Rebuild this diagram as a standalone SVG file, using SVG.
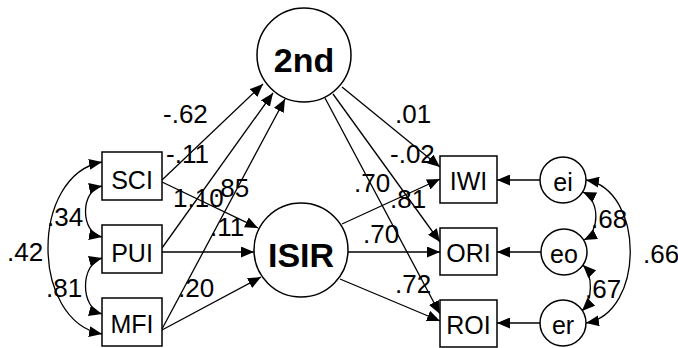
<svg xmlns="http://www.w3.org/2000/svg" width="678" height="348" viewBox="0 0 678 348">
  <defs>
    <marker id="arrow" viewBox="0 0 13 11" refX="13" refY="5.5" markerWidth="13" markerHeight="11" markerUnits="userSpaceOnUse" orient="auto-start-reverse">
      <path d="M0,0 L13,5.5 L0,11 Z" fill="#000"/>
    </marker>
    <style>
      .box { fill: #fff; stroke: #000; stroke-width: 1.5; }
      .oval { fill: #fff; stroke: #000; stroke-width: 1.5; }
      .edge { fill: none; stroke: #000; stroke-width: 1.3; marker-end: url(#arrow); }
      .cov { fill: none; stroke: #000; stroke-width: 1.3; marker-start: url(#arrow); marker-end: url(#arrow); }
      .lbl { font-family: "Liberation Sans", Arial, sans-serif; font-size: 26px; fill: #000; }
      .big { font-family: "Liberation Sans", Arial, sans-serif; font-size: 34px; font-weight: bold; fill: #000; text-anchor: middle; }
      .name { font-family: "Liberation Sans", Arial, sans-serif; font-size: 25px; fill: #000; text-anchor: middle; }
    </style>
  </defs>
  <rect width="678" height="348" fill="#fff"/>

  <!-- paths and covariances -->
  <g id="connectors">
    <!-- predictors to 2nd -->
    <line class="edge" x1="162" y1="180" x2="263" y2="84"/>
    <line class="edge" x1="162" y1="248" x2="273" y2="93"/>
    <line class="edge" x1="162" y1="329" x2="285" y2="99"/>
    <!-- predictors to ISIR -->
    <line class="edge" x1="162" y1="182" x2="258" y2="228"/>
    <line class="edge" x1="162" y1="252" x2="254" y2="252"/>
    <line class="edge" x1="162" y1="330" x2="261" y2="277"/>
    <!-- 2nd to outcomes -->
    <line class="edge" x1="342" y1="87" x2="440" y2="167"/>
    <line class="edge" x1="333" y1="94" x2="440" y2="242"/>
    <line class="edge" x1="325" y1="98" x2="440" y2="314"/>
    <!-- ISIR to outcomes -->
    <line class="edge" x1="342" y1="224" x2="440" y2="179"/>
    <line class="edge" x1="348" y1="252" x2="440" y2="252"/>
    <line class="edge" x1="340" y1="279" x2="440" y2="321"/>
    <!-- error terms -->
    <line class="edge" x1="540" y1="180" x2="497" y2="180"/>
    <line class="edge" x1="541" y1="252" x2="497" y2="252"/>
    <line class="edge" x1="540" y1="323" x2="497" y2="323"/>
    <!-- covariances between predictors -->
    <path class="cov" d="M102,186 C80,190 80,233 102,237"/>
    <path class="cov" d="M102,258 C80,264 80,308 102,314"/>
    <path class="cov" d="M102,162 C30,175 30,321 102,334"/>
    <!-- covariances between error terms -->
    <path class="cov" d="M583,192 C600,200 600,232 584,240"/>
    <path class="cov" d="M583,265 C593,275 593,300 582,311"/>
    <path class="cov" d="M586,180 C645,190 645,313 586,323"/>
  </g>

  <!-- coefficient labels -->
  <g id="labels" class="lbl">
    <text x="163" y="123">-.62</text>
    <text x="166" y="163">-.11</text>
    <text x="173" y="207">1.10</text>
    <text x="213" y="197">.85</text>
    <text x="210" y="236">.11</text>
    <text x="178" y="297">.20</text>
    <text x="47" y="226">.34</text>
    <text x="7" y="261">.42</text>
    <text x="46" y="297">.81</text>
    <text x="395" y="123">.01</text>
    <text x="390" y="163">-.02</text>
    <text x="354" y="192">.70</text>
    <text x="390" y="208">.81</text>
    <text x="363" y="243">.70</text>
    <text x="395" y="293">.72</text>
    <text x="591" y="228">.68</text>
    <text x="585" y="298">.67</text>
    <text x="643" y="263">.66</text>
  </g>

  <g id="SCI"><rect class="box" x="102" y="152" width="60" height="48"/><text class="name" x="132" y="189">SCI</text></g>
  <g id="PUI"><rect class="box" x="102" y="225" width="60" height="48"/><text class="name" x="132" y="262">PUI</text></g>
  <g id="MFI"><rect class="box" x="102" y="298" width="60" height="48"/><text class="name" x="132" y="333">MFI</text></g>

  <g id="second"><circle class="oval" cx="304" cy="55" r="47"/><text class="big" x="304" y="72">2nd</text></g>
  <g id="ISIR"><circle class="oval" cx="301" cy="250" r="47"/><text class="big" x="301" y="267">ISIR</text></g>

  <g id="IWI"><rect class="box" x="440" y="156" width="57" height="47"/><text class="name" x="468.5" y="190">IWI</text></g>
  <g id="ORI"><rect class="box" x="440" y="228" width="57" height="47"/><text class="name" x="468.5" y="262">ORI</text></g>
  <g id="ROI"><rect class="box" x="440" y="300" width="57" height="47"/><text class="name" x="468.5" y="334">ROI</text></g>

  <g id="ei"><circle class="oval" cx="563" cy="180" r="23"/><text class="name" x="563" y="191">ei</text></g>
  <g id="eo"><circle class="oval" cx="564" cy="252" r="23"/><text class="name" x="564" y="263">eo</text></g>
  <g id="er"><circle class="oval" cx="563" cy="323" r="23"/><text class="name" x="563" y="334">er</text></g>
</svg>
